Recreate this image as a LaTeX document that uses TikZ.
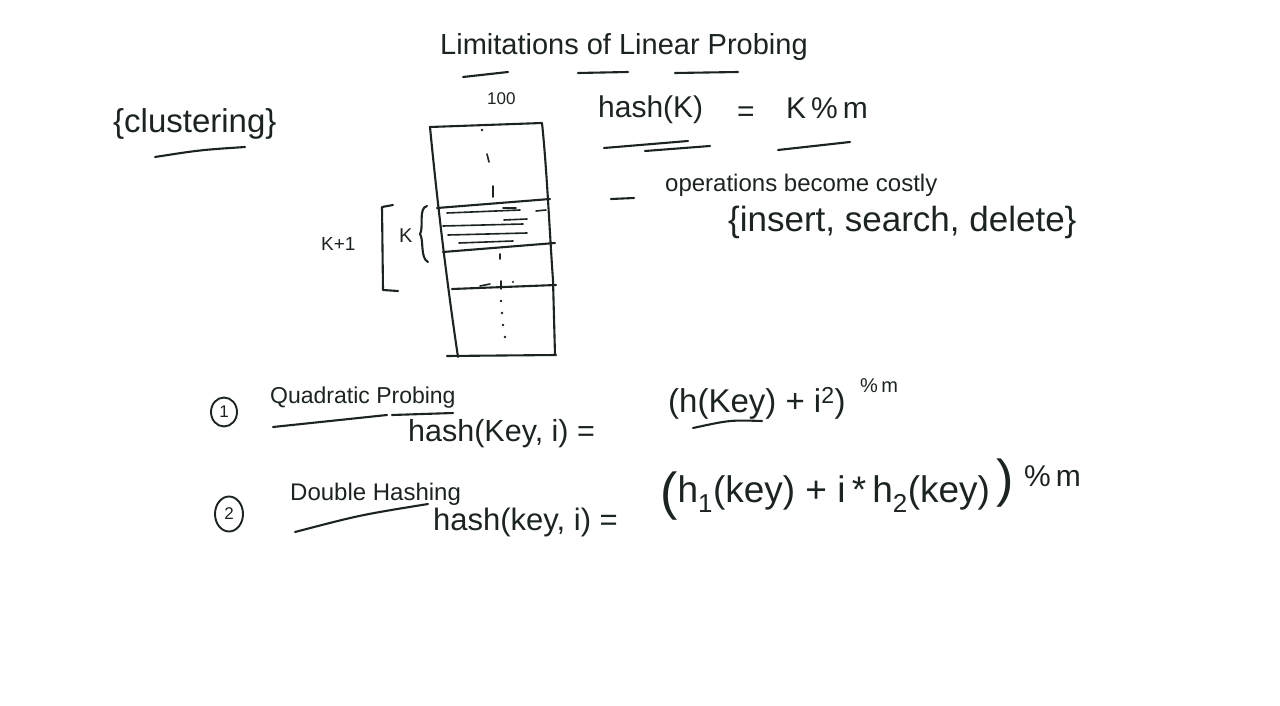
\documentclass[tikz,border=0pt]{standalone}
\usepackage{fontspec}
\setmainfont{Liberation Sans}
\usetikzlibrary{shapes.geometric}
\definecolor{ink}{RGB}{28,36,32}
\begin{document}
\begin{tikzpicture}[x=1pt,y=-1pt,
  txt/.style={inner sep=0pt, anchor=west, text=ink},
  pen/.style={draw=ink, line width=2.1pt, line cap=round, line join=round},
  thin/.style={draw=ink, line width=1.6pt, line cap=round},
  num/.style={ellipse, draw=ink, line width=1.9pt, inner sep=0pt, minimum width=26pt, minimum height=29pt, text=ink, font=\fontsize{17}{18}\selectfont}]
\useasboundingbox[fill=white] (0,0) rectangle (1280,706);

% ---------- texts ----------
\node[txt, font=\fontsize{29}{30}\selectfont] (title) at (440,47) {Limitations of Linear Probing};
\node[txt, font=\fontsize{33}{35}\selectfont] (clus) at (113,124) {\{clustering\}};
\node[txt, font=\fontsize{17}{18}\selectfont] (hundred) at (487,99) {100};
\node[txt, font=\fontsize{30}{32}\selectfont] (hashk) at (598,110) {hash(K)};
\node[txt, font=\fontsize{30}{32}\selectfont] (eqa) at (737,114) {=};
\node[txt, font=\fontsize{30}{32}\selectfont] (kmod) at (786,108) {K\,\%\,m};
\node[txt, font=\fontsize{24}{26}\selectfont] (ops) at (665,185) {operations become costly};
\node[txt, font=\fontsize{35}{37}\selectfont] (isd) at (728,222) {\{insert, search, delete\}};
\node[txt, font=\fontsize{19}{20}\selectfont] (kp1) at (321,244) {K+1};
\node[txt, font=\fontsize{20}{21}\selectfont] (kk) at (399,236) {K};

\node[num] (c1) at (224,412) {1};
\node[txt, font=\fontsize{23}{25}\selectfont] (qp) at (270,398) {Quadratic Probing};
\node[txt, font=\fontsize{30.5}{32}\selectfont] (hq) at (408,434) {hash(Key, i) =};
\node[txt, font=\fontsize{33}{35}\selectfont] (fq) at (668,403) {(h(Key) + i\textsuperscript{2})};
\node[txt, font=\fontsize{20}{21}\selectfont] (mq) at (860,386) {\%\,m};

\node[num, minimum width=28pt, minimum height=35pt] (c2) at (229,514) {2};
\node[txt, font=\fontsize{24}{26}\selectfont] (dh) at (290,494) {Double Hashing};
\node[txt, font=\fontsize{31}{33}\selectfont] (hd) at (433,522) {hash(key, i) =};
\node[txt, font=\fontsize{37}{39}\selectfont] (fd) at (660,490)
  {\raisebox{-7pt}{\fontsize{52}{52}\selectfont(}h\textsubscript{1}(key) + i\,*\,h\textsubscript{2}(key)\,\raisebox{6pt}{\fontsize{52}{52}\selectfont)}};
\node[txt, font=\fontsize{30}{32}\selectfont] (md) at (1024,476) {\%\,m};

% ---------- underlines ----------
\draw[pen] (463,77) -- (508,72);
\draw[pen] (578,73) -- (628,72);
\draw[pen] (675,73) -- (738,72);
\draw[pen] (155,157) .. controls (200,150) .. (245,147);
\draw[pen] (604,148) -- (688,141);
\draw[pen] (645,151) -- (710,146);
\draw[pen] (778,150) -- (850,142);
\draw[pen] (611,199) -- (634,198);
\draw[pen] (273,427) -- (387,415);
\draw[pen] (392,415) -- (453,413);
\draw[pen] (693,428) .. controls (730,420) .. (762,421);
\draw[pen] (295,532) .. controls (360,515) .. (428,504);

% ---------- table ----------
\draw[pen] (430,127) -- (542,123)
  .. controls (547,170) and (550,240) .. (553,280) -- (555,355);
\draw[pen] (430,127) .. controls (438,210) and (448,290) .. (458,357);
\draw[pen] (437,208) -- (550,199);
\draw[pen] (443,252) -- (555,243);
\draw[pen] (452,289) -- (556,285);
\draw[pen] (447,356) -- (556,355);
% hatching
\draw[thin] (447,213) -- (520,210);
\draw[thin] (503,208) -- (516,208);
\draw[thin] (536,211) -- (546,210);
\draw[thin] (504,220) -- (527,219);
\draw[thin] (443,226) -- (523,224);
\draw[thin] (448,235) -- (527,233);
\draw[thin] (459,243) -- (513,241);
% marks in cells
\fill[ink] (482,130) circle (1.3);
\draw[thin] (487,154) -- (489,162);
\draw[thin] (493,186) -- (493,197);
\draw[thin] (500,254) -- (500,259);
\draw[thin] (480,286) -- (490,284);
\draw[thin] (501,281) -- (501,289);
\fill[ink] (513,282) circle (1.2);
\foreach \p in {(501,301),(502,313),(503,325),(505,337)} \fill[ink] \p circle (1.3);

% bracket and brace
\draw[pen] (393,205) -- (382,207) -- (383,290) -- (398,291);
\draw[pen] (427,206) .. controls (418,208) and (424,228) .. (420,234)
  .. controls (424,240) and (420,258) .. (428,262);
\end{tikzpicture}
\end{document}
